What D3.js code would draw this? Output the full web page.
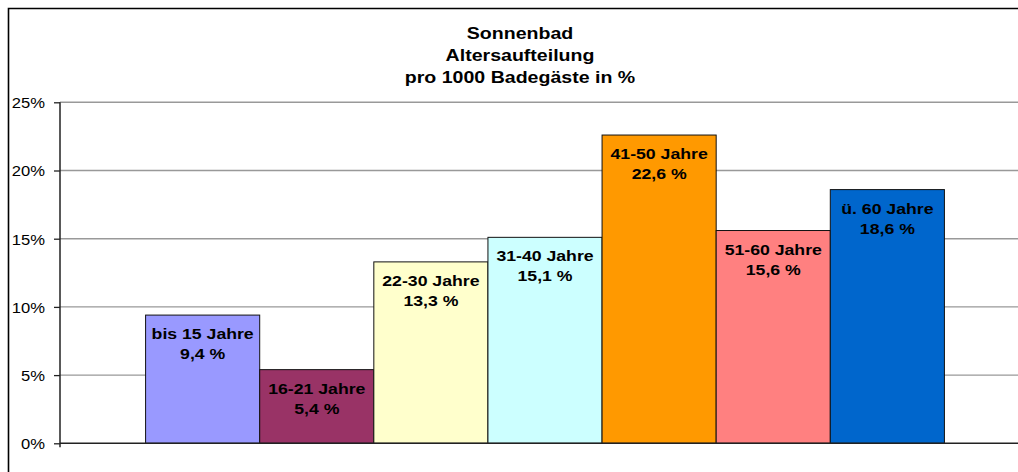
<!DOCTYPE html>
<html>
<head>
<meta charset="utf-8">
<script src="https://cdn.jsdelivr.net/npm/d3@7"></script>
<style>
  html, body { margin: 0; padding: 0; background: #fff; }
  svg { display: block; font-family: Arial, "Liberation Sans", sans-serif; }
</style>
</head>
<body>
<svg id="chart" width="1018" height="472"></svg>
<script>
const titleLines = ["Sonnenbad", "Altersaufteilung", "pro 1000 Badegäste in %"];
const categories = ["bis 15 Jahre", "16-21 Jahre", "22-30 Jahre", "31-40 Jahre", "41-50 Jahre", "51-60 Jahre", "ü. 60 Jahre"];
const values = [9.4, 5.4, 13.3, 15.1, 22.6, 15.6, 18.6];
const valueLabels = ["9,4 %", "5,4 %", "13,3 %", "15,1 %", "22,6 %", "15,6 %", "18,6 %"];
const colors = ["#9999FF", "#993366", "#FFFFCC", "#CCFFFF", "#FF9900", "#FF8080", "#0066CC"];
const yTicks = [0, 5, 10, 15, 20, 25];
const yTickLabels = ["0%", "5%", "10%", "15%", "20%", "25%"];

const svg = d3.select("#chart");

// outer chart border (cropped at right and bottom)
svg.append("path")
  .attr("d", "M8.5,480 L8.5,8.5 L1030,8.5")
  .attr("fill", "none").attr("stroke", "#000").attr("stroke-width", 1.6);

const plotLeft = 60, plotRight = 1030;
const x = d3.scaleBand().domain(categories).range([plotLeft, plotRight]).paddingInner(0).paddingOuter(0.75);
const y = d3.scaleLinear().domain([0, 25]).range([443.3, 102.3]);

// gridlines
svg.append("g").selectAll("line").data(yTicks.filter(d => d > 0)).join("line")
  .attr("x1", plotLeft).attr("x2", plotRight)
  .attr("y1", d => y(d)).attr("y2", d => y(d))
  .attr("stroke", "#999").attr("stroke-width", 1.4);

// title
svg.append("g").selectAll("text").data(titleLines).join("text")
  .attr("text-anchor", "middle")
  .attr("font-weight", "bold").attr("font-size", 16.3).attr("fill", "#000")
  .attr("transform", (d, i) => `translate(520,${39 + i * 22}) scale(1.2,1)`)
  .text(d => d);

// bars
const bars = svg.append("g").selectAll("g").data(categories).join("g");
bars.append("rect")
  .attr("x", d => x(d)).attr("width", x.bandwidth())
  .attr("y", (d, i) => y(values[i])).attr("height", (d, i) => y(0) - y(values[i]))
  .attr("fill", (d, i) => colors[i])
  .attr("stroke", "#111").attr("stroke-width", 1);

bars.append("text")
  .attr("text-anchor", "middle").attr("font-weight", "bold").attr("font-size", 15.5).attr("fill", "#000")
  .attr("transform", (d, i) => `translate(${x(d) + x.bandwidth() / 2},${y(values[i]) + 24}) scale(1.14,1)`)
  .text(d => d);
bars.append("text")
  .attr("text-anchor", "middle").attr("font-weight", "bold").attr("font-size", 15.5).attr("fill", "#000")
  .attr("transform", (d, i) => `translate(${x(d) + x.bandwidth() / 2},${y(values[i]) + 44}) scale(1.14,1)`)
  .text((d, i) => valueLabels[i]);

// x baseline
svg.append("line")
  .attr("x1", plotLeft).attr("x2", plotRight)
  .attr("y1", y(0)).attr("y2", y(0))
  .attr("stroke", "#222").attr("stroke-width", 1.5);

// y axis
const yAxis = d3.axisLeft(y).tickValues(yTicks).tickSize(6).tickPadding(8)
  .tickFormat((d, i) => yTickLabels[i]);
const ga = svg.append("g").attr("transform", `translate(${plotLeft},0)`).call(yAxis);
ga.select(".domain").attr("d", `M0,${y(25)}V${y(0) + 4}`).attr("stroke", "#222").attr("stroke-width", 1.5);
ga.selectAll(".tick line").attr("stroke", "#222").attr("stroke-width", 1.3);
ga.selectAll(".tick text").attr("font-size", 15.5).attr("fill", "#000")
  .attr("font-family", "Arial, 'Liberation Sans', sans-serif").attr("dy", "0.35em")
  .attr("transform", "scale(1.07,1)");
</script>
</body>
</html>
